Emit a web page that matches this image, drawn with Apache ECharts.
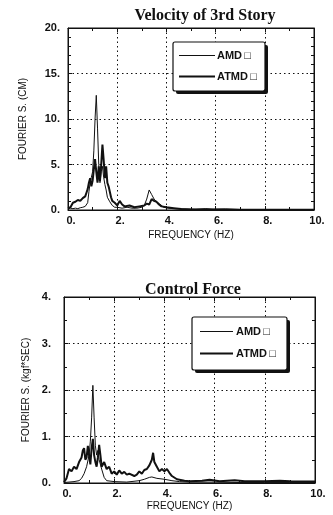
<!DOCTYPE html>
<html><head><meta charset="utf-8">
<script src="https://cdn.jsdelivr.net/npm/echarts@6/dist/echarts.min.js"></script>
<style>html,body{margin:0;padding:0;background:#fff}#c{width:333px;height:515px}</style>
</head><body><div id="c"></div>
<script>
// ---- data ----
const titles = ['Velocity of 3rd Story', 'Control Force'];
const yNames = ['FOURIER S. (CM)', 'FOURIER S. (kgf*SEC)'];
const xName = 'FREQUENCY (HZ)';
const seriesNames = ['AMD', 'ATMD'];
const legendMark = '\u25A1';
const xTicks = [0, 2, 4, 6, 8, 10];
const yTicksTop = [0, 5, 10, 15, 20];
const yTicksBottom = [0, 1, 2, 3, 4];

const velAMD = [[0,0.1],[0.1,0.2],[0.2,0.15],[0.3,0.2],[0.4,0.15],[0.5,0.25],[0.6,0.3],[0.7,0.4],[0.8,0.8],[0.85,2.0],[0.9,3.0],[0.95,3.6],[1.0,4.2],[1.05,6.5],[1.1,10.0],[1.15,12.6],[1.2,9.0],[1.25,5.0],[1.3,3.0],[1.35,4.2],[1.4,4.8],[1.45,3.6],[1.5,2.8],[1.55,2.2],[1.6,1.4],[1.7,0.9],[1.8,0.5],[1.9,0.3],[2.0,0.3],[2.2,0.2],[2.4,0.3],[2.6,0.2],[2.8,0.2],[3.0,0.3],[3.1,0.5],[3.2,1.2],[3.3,2.2],[3.4,1.7],[3.5,1.2],[3.6,0.9],[3.7,0.7],[3.8,0.5],[3.9,0.3],[4.1,0.2],[4.4,0.15],[4.8,0.1],[5.2,0.08],[5.6,0.15],[5.9,0.08],[6.4,0.12],[7,0.05],[8,0.05],[9,0.05],[10,0.05]];
const velATMD = [[0,0.2],[0.05,0.4],[0.1,0.3],[0.2,0.8],[0.3,0.9],[0.4,1.1],[0.5,1.0],[0.6,1.3],[0.7,1.5],[0.75,1.9],[0.8,2.3],[0.85,3.0],[0.9,3.5],[0.95,2.6],[1.0,3.2],[1.05,4.5],[1.1,5.6],[1.15,4.2],[1.2,3.0],[1.25,4.8],[1.3,3.2],[1.35,5.0],[1.4,7.2],[1.45,5.5],[1.5,3.5],[1.55,4.8],[1.6,3.0],[1.65,2.6],[1.7,2.0],[1.75,1.4],[1.8,1.0],[1.9,0.8],[2.0,0.5],[2.1,1.0],[2.2,0.6],[2.3,0.4],[2.5,0.5],[2.7,0.3],[2.9,0.4],[3.1,0.5],[3.2,0.7],[3.3,0.6],[3.4,1.2],[3.5,1.0],[3.6,0.9],[3.7,0.6],[3.8,0.4],[4.0,0.3],[4.3,0.2],[4.6,0.1],[5.0,0.05],[6.0,0.05],[7,0.03],[8,0.03],[9,0.03],[10,0.03]];
const forceAMD = [[0,0.01],[0.2,0.02],[0.4,0.03],[0.6,0.05],[0.7,0.1],[0.8,0.2],[0.9,0.35],[1.0,0.6],[1.05,0.9],[1.1,1.4],[1.15,2.1],[1.2,1.4],[1.25,0.8],[1.3,0.6],[1.35,0.7],[1.4,0.5],[1.5,0.3],[1.6,0.12],[1.7,0.05],[2.0,0.03],[2.5,0.02],[3.0,0.05],[3.2,0.08],[3.4,0.12],[3.5,0.13],[3.7,0.1],[4.0,0.08],[4.3,0.05],[4.6,0.03],[5,0.02],[6,0.02],[7,0.01],[8,0.01],[9,0.01],[10,0.01]];
const forceATMD = [[0,0.02],[0.1,0.1],[0.2,0.3],[0.3,0.25],[0.4,0.35],[0.5,0.3],[0.6,0.45],[0.7,0.55],[0.75,0.7],[0.8,0.75],[0.85,0.5],[0.9,0.55],[0.95,0.8],[1.0,0.6],[1.05,0.4],[1.1,0.75],[1.15,0.95],[1.2,0.6],[1.25,0.45],[1.3,0.35],[1.35,0.55],[1.4,0.82],[1.45,0.6],[1.5,0.35],[1.6,0.45],[1.7,0.3],[1.8,0.35],[1.9,0.2],[2.0,0.25],[2.1,0.18],[2.2,0.27],[2.3,0.2],[2.4,0.24],[2.5,0.18],[2.6,0.2],[2.8,0.15],[2.9,0.18],[3.0,0.25],[3.1,0.2],[3.2,0.28],[3.3,0.3],[3.4,0.38],[3.5,0.5],[3.55,0.65],[3.6,0.45],[3.7,0.35],[3.8,0.25],[3.9,0.3],[4.0,0.25],[4.1,0.3],[4.2,0.22],[4.3,0.15],[4.5,0.08],[4.8,0.05],[5.0,0.04],[5.5,0.05],[5.8,0.07],[6.2,0.04],[6.8,0.06],[7.2,0.04],[8,0.04],[8.6,0.05],[9,0.04],[10,0.03]];

// ---- chart ----
const chart = echarts.init(document.getElementById('c'), null, {renderer: 'canvas'});
const BLACK = '#111';
const labelFont = {fontFamily: 'Liberation Sans', fontWeight: 'bold', fontSize: 11, color: BLACK};
const nameFont = {fontFamily: 'Liberation Sans', fontSize: 10, color: BLACK};

function xAx(gi, main) {
  return {
    type: 'value', gridIndex: gi, position: main ? 'bottom' : 'top',
    min: xTicks[0], max: xTicks[xTicks.length - 1], interval: xTicks[1] - xTicks[0],
    name: main ? xName : '', nameLocation: 'middle', nameGap: gi === 0 ? 20 : 18, nameTextStyle: nameFont,
    axisLine: {show: true, onZero: false, lineStyle: {color: BLACK, width: 1}},
    axisTick: {show: true, inside: true, length: 4, lineStyle: {color: BLACK}},
    minorTick: {show: true, splitNumber: 2, length: 3, lineStyle: {color: BLACK}},
    axisLabel: {show: main, margin: 5, padding: [0, 0, 0, 6], formatter: v => v + '.', ...labelFont},
    splitLine: {show: main, lineStyle: {color: BLACK, type: [1.5, 3], width: 1}}
  };
}
function yAx(gi, main, ticks, minorN, gap) {
  return {
    type: 'value', gridIndex: gi, position: main ? 'left' : 'right',
    min: ticks[0], max: ticks[ticks.length - 1], interval: ticks[1] - ticks[0],
    name: main ? yNames[gi] : '', nameLocation: 'middle', nameGap: gap, nameTextStyle: nameFont,
    axisLine: {show: true, onZero: false, lineStyle: {color: BLACK, width: 1}},
    axisTick: {show: true, inside: true, length: 4, lineStyle: {color: BLACK}},
    minorTick: {show: true, splitNumber: minorN, length: 3, lineStyle: {color: BLACK}},
    axisLabel: {show: main, margin: gi === 0 ? 8 : 13, formatter: v => v + '.', ...labelFont},
    splitLine: {show: main, lineStyle: {color: BLACK, type: [1.5, 3], width: 1}}
  };
}
function line(name, data, xi, yi, w) {
  return {
    type: 'line', name: name, data: data, xAxisIndex: xi, yAxisIndex: yi,
    showSymbol: false, symbol: 'none', smooth: false, animation: false,
    lineStyle: {color: BLACK, width: w}, itemStyle: {color: BLACK}
  };
}
// legend box drawn as graphic elements (box with offset shadow, sample lines, labels)
function legendBox(x, y, w, h, lineX0, lineX1, textX, rowY) {
  const els = [
    {type: 'rect', shape: {x: x + 3, y: y + 3, width: w, height: h, r: 2}, style: {fill: BLACK}, z: 100},
    {type: 'rect', shape: {x: x, y: y, width: w, height: h, r: 2}, style: {fill: '#fff', stroke: BLACK, lineWidth: 1.2}, z: 101}
  ];
  seriesNames.forEach((n, i) => {
    els.push({type: 'line', shape: {x1: lineX0, y1: rowY[i] + 0.5, x2: lineX1, y2: rowY[i] + 0.5},
              style: {stroke: BLACK, lineWidth: i === 0 ? 1 : 2}, z: 102});
    els.push({type: 'text', x: textX, y: rowY[i] + 1,
              style: {text: n + '\u2009' + legendMark, fill: BLACK, font: 'bold 11px "Liberation Sans", "DejaVu Sans"', verticalAlign: 'middle'}, z: 102});
  });
  return els;
}

const option = {
  backgroundColor: '#fff',
  animation: false,
  title: [
    {text: titles[0], left: 200, top: 3, textAlign: 'center',
     textStyle: {fontFamily: 'Liberation Serif', fontWeight: 'bold', fontSize: 16, color: BLACK}},
    {text: titles[1], left: 188, top: 277, textAlign: 'center',
     textStyle: {fontFamily: 'Liberation Serif', fontWeight: 'bold', fontSize: 16, color: BLACK}}
  ],
  grid: [
    {left: 68, right: 19, top: 28, bottom: 305, show: true, borderColor: BLACK, borderWidth: 1},
    {left: 64, right: 18, top: 297, bottom: 32, show: true, borderColor: BLACK, borderWidth: 1}
  ],
  xAxis: [xAx(0, true), xAx(0, false), xAx(1, true), xAx(1, false)],
  yAxis: [yAx(0, true, yTicksTop, 5, 40), yAx(0, false, yTicksTop, 5, 0),
          yAx(1, true, yTicksBottom, 2, 33), yAx(1, false, yTicksBottom, 2, 0)],
  graphic: [
    ...legendBox(173, 42, 92, 49, 179, 215, 217, [55, 76]),
    ...legendBox(192, 317, 95, 53, 200, 233, 236, [331, 353])
  ],
  series: [
    line(seriesNames[1], velATMD, 0, 0, 2),
    line(seriesNames[0], velAMD, 0, 0, 1),
    line(seriesNames[1], forceATMD, 2, 2, 2),
    line(seriesNames[0], forceAMD, 2, 2, 1)
  ]
};
chart.setOption(option);
</script></body></html>
